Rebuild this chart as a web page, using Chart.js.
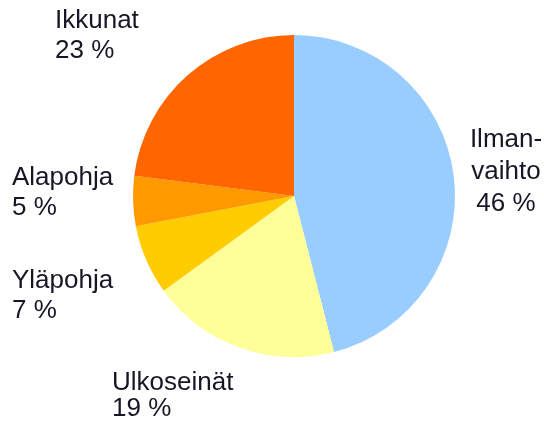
<!DOCTYPE html>
<html>
<head>
<meta charset="utf-8">
<script src="https://cdn.jsdelivr.net/npm/chart.js@4"></script>
<style>
html,body{margin:0;padding:0;background:#fff;}
#wrap{width:544px;height:428px;position:relative;}
canvas{display:block;}
</style>
</head>
<body>
<div id="wrap"><canvas id="c" width="544" height="428"></canvas></div>
<script>
const categories = ["Ilmanvaihto", "Ulkoseinät", "Yläpohja", "Alapohja", "Ikkunat"];
const values = [46, 19, 7, 5, 23];
const labelLines = [
  ["Ilman-", "vaihto", "46 %"],
  ["Ulkoseinät", "19 %"],
  ["Yläpohja", "7 %"],
  ["Alapohja", "5 %"],
  ["Ikkunat", "23 %"]
];
const colors = ["#99CCFF", "#FFFF99", "#FFCC00", "#FF9900", "#FF6600"];

// label layout (text anchor, alignment, line height)
const labelLayout = [
  {x: 506, y: 147, align: "center", lh: 32},
  {x: 112, y: 390, align: "left", lh: 26},
  {x: 12, y: 288, align: "left", lh: 30},
  {x: 12, y: 185, align: "left", lh: 30},
  {x: 55, y: 28, align: "left", lh: 30}
];

const labelPlugin = {
  id: "outLabels",
  afterDraw(chart) {
    const ctx = chart.ctx;
    ctx.save();
    ctx.font = "26px 'Liberation Sans', Arial, sans-serif";
    ctx.fillStyle = "#161626";
    ctx.textBaseline = "alphabetic";
    labelLines.forEach((lines, i) => {
      const L = labelLayout[i];
      ctx.textAlign = L.align;
      lines.forEach((t, j) => ctx.fillText(t, L.x, L.y + j * L.lh));
    });
    ctx.restore();
  }
};

new Chart(document.getElementById("c"), {
  type: "pie",
  data: {
    labels: categories,
    datasets: [{
      data: values,
      backgroundColor: colors,
      borderWidth: 0
    }]
  },
  options: {
    responsive: false,
    animation: false,
    devicePixelRatio: 1,
    layout: {padding: {left: 133, right: 89, top: 35, bottom: 71}},
    plugins: {
      legend: {display: false},
      tooltip: {enabled: false}
    }
  },
  plugins: [labelPlugin]
});
</script>
</body>
</html>
